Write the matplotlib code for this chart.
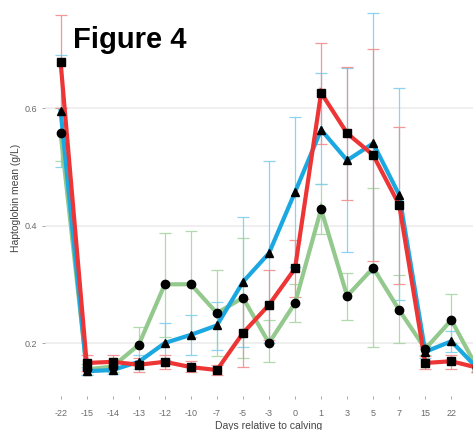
import matplotlib as mpl
import matplotlib.pyplot as plt
import numpy as np

mpl.rcParams["font.family"] = "Liberation Sans"

# days relative to calving (categorical axis)
days = ["-22", "-15", "-14", "-13", "-12", "-10", "-7", "-5", "-3", "0",
        "1", "3", "5", "7", "15", "22", "29"]

# red series (squares)
red_mean = [0.678, 0.166, 0.168, 0.163, 0.168, 0.159, 0.154, 0.217, 0.265, 0.327,
            0.626, 0.557, 0.520, 0.435, 0.166, 0.169, 0.158]
red_low = [0.600, 0.152, 0.155, 0.150, 0.155, 0.150, 0.145, 0.159, 0.205, 0.278,
           0.539, 0.443, 0.340, 0.300, 0.155, 0.155, 0.150]
red_high = [0.758, 0.180, 0.180, 0.175, 0.180, 0.170, 0.163, 0.275, 0.324, 0.375,
            0.710, 0.670, 0.700, 0.568, 0.178, 0.180, 0.165]

# blue series (triangles)
blue_mean = [0.595, 0.152, 0.154, 0.168, 0.200, 0.214, 0.230, 0.304, 0.353, 0.457,
             0.563, 0.511, 0.540, 0.452, 0.185, 0.203, 0.157]
blue_low = [0.500, 0.145, 0.147, 0.155, 0.171, 0.180, 0.188, 0.193, 0.200, 0.330,
            0.470, 0.355, 0.320, 0.273, 0.175, 0.185, 0.150]
blue_high = [0.690, 0.160, 0.162, 0.180, 0.234, 0.248, 0.270, 0.415, 0.510, 0.585,
             0.660, 0.668, 0.762, 0.634, 0.195, 0.220, 0.165]

# green series (circles)
green_mean = [0.557, 0.155, 0.160, 0.197, 0.300, 0.300, 0.251, 0.277, 0.200, 0.268,
              0.428, 0.280, 0.328, 0.256, 0.190, 0.239, 0.157]
green_low = [0.510, 0.145, 0.150, 0.167, 0.210, 0.210, 0.178, 0.175, 0.168, 0.236,
             0.385, 0.240, 0.193, 0.200, 0.180, 0.200, 0.150]
green_high = [0.600, 0.165, 0.170, 0.227, 0.387, 0.390, 0.324, 0.379, 0.240, 0.300,
              0.470, 0.320, 0.464, 0.316, 0.200, 0.283, 0.165]

Y_TICKS = [0.2, 0.4, 0.6]

series = [
    # mean, low, high, line colour, error colour, marker
    (green_mean, green_low, green_high, "#93C98D", "#A9D6A3", "o"),
    (blue_mean, blue_low, blue_high, "#1BA8E0", "#7FCFEE", "^"),
    (red_mean, red_low, red_high, "#EE3535", "#F28C8C", "s"),
]

fig = plt.figure(figsize=(4.73, 4.30), dpi=100)
# the panel runs past the right edge, like the cropped original
ax = fig.add_axes([45 / 473, 1 - 396 / 430, 448 / 473, 396 / 430])

x = np.arange(len(days))

for mean, low, high, lc, ec, mk in series:
    mean = np.array(mean)
    err = np.array([mean - np.array(low), np.array(high) - mean])
    ax.errorbar(x, mean, yerr=err, fmt="none", ecolor=ec, elinewidth=0.9,
                capsize=4, capthick=0.9, alpha=0.9, zorder=2)

for mean, low, high, lc, ec, mk in series:
    ax.plot(x, mean, "-", color=lc, linewidth=3, zorder=3, solid_joinstyle="miter")

for mean, low, high, lc, ec, mk in series:
    ax.plot(x, mean, mk, color="black", markersize=6, linestyle="none", zorder=4)

ax.set_xlim(-0.6, len(days) - 0.4)
ax.set_ylim(0.1098, 0.784)
ax.set_xticks(x)
ax.set_xticklabels(days)
ax.set_yticks(Y_TICKS)
ax.set_yticklabels([f"{v:.1f}" for v in Y_TICKS])
ax.grid(axis="y", color="#EBEBEB", linewidth=1.1)
ax.set_axisbelow(True)
for s in ax.spines.values():
    s.set_visible(False)
ax.tick_params(axis="both", length=2.5, width=0.6, color="#9A9A9A",
               labelsize=6.5, labelcolor="#6A6A6A", pad=3)
ax.tick_params(axis="x", pad=7)

ax.set_xlabel("Days relative to calving", fontsize=7.5, color="#444444", labelpad=2)
ax.set_ylabel("Haptoglobin mean (g/L)", fontsize=7.5, color="#444444", labelpad=3)

fig.text(73 / 473, 1 - 40 / 430, "Figure 4", fontsize=21, fontweight="bold",
         ha="left", va="center", color="black")

fig.savefig("out.png", dpi=100)
